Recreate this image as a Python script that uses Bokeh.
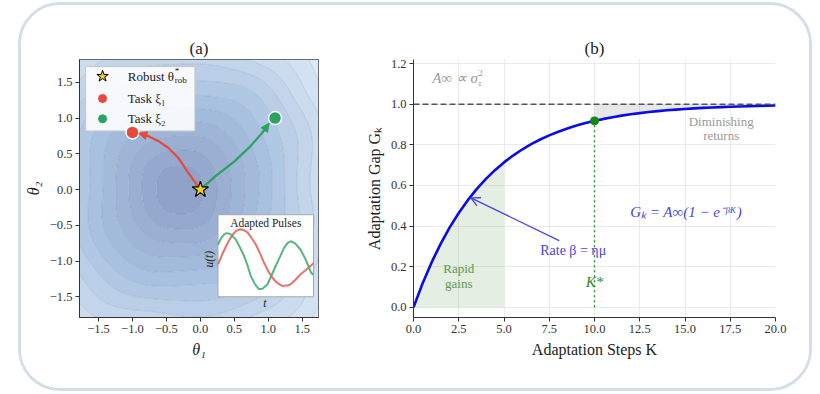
import numpy as np
from bokeh.plotting import figure
from bokeh.layouts import row
from bokeh.models import (Range1d, FixedTicker, CustomJSTickFormatter, Arrow,
                          NormalHead, OpenHead, Span)
from bokeh.core.properties import value
from bokeh.embed import file_html
from bokeh.resources import INLINE

SERIF = "Liberation Serif"

# ---------------- data: panel (a) ----------------
a_ticks = [-1.5, -1.0, -0.5, 0.0, 0.5, 1.0, 1.5]
robust_theta = [0.0, 0.0]
task1_theta = [-1.0, 0.8]
task2_theta = [1.1, 1.0]
task1_path_x = [0.0, -0.184, -0.33, -0.477, -0.623, -0.77, -0.907]
task1_path_y = [0.0, 0.243, 0.45, 0.589, 0.681, 0.75, 0.787]
task2_path_x = [0.0, 0.205, 0.498, 0.743, 0.914, 1.01]
task2_path_y = [0.0, 0.174, 0.391, 0.612, 0.797, 0.925]
landscape_center = [-0.3, 0.0]

pulse_red_t = [0.0, 0.04, 0.083, 0.12, 0.153, 0.19, 0.232, 0.27, 0.309, 0.35, 0.396, 0.44,
               0.482, 0.525, 0.57, 0.62, 0.674, 0.72, 0.76, 0.81, 0.865, 0.92, 0.969, 1.0]
pulse_red_u = [-0.16, 0.12, 0.39, 0.60, 0.75, 0.87, 0.92, 0.89, 0.82, 0.66, 0.45, 0.18,
               -0.11, -0.36, -0.57, -0.73, -0.82, -0.81, -0.77, -0.64, -0.46, -0.33, -0.21, -0.12]
pulse_green_t = [0.0, 0.03, 0.06, 0.09, 0.13, 0.1875, 0.23, 0.274, 0.31, 0.344, 0.39, 0.43, 0.47,
                 0.518, 0.56, 0.604, 0.65, 0.69, 0.73, 0.768, 0.81, 0.865, 0.92, 0.976, 1.0]
pulse_green_u = [0.45, 0.63, 0.75, 0.80, 0.77, 0.60, 0.36, 0.09, -0.20, -0.52, -0.78, -0.92, -0.90,
                 -0.77, -0.50, -0.21, 0.08, 0.34, 0.50, 0.55, 0.48, 0.29, -0.02, -0.42, -0.48]

# ---------------- data: panel (b) ----------------
steps_K = [0.0, 0.5, 1.0, 1.5, 2.0, 2.5, 3.0, 3.5, 4.0, 4.5, 5.0, 5.5, 6.0, 6.5, 7.0, 7.5,
           8.0, 8.5, 9.0, 9.5, 10.0, 10.5, 11.0, 11.5, 12.0, 12.5, 13.0, 13.5, 14.0, 14.5,
           15.0, 15.5, 16.0, 16.5, 17.0, 17.5, 18.0, 18.5, 19.0, 19.5, 20.0]
gap_G = [0.0, 0.1175, 0.2212, 0.3127, 0.3935, 0.4647, 0.5276, 0.5831, 0.6321, 0.6753, 0.7135,
         0.7472, 0.7769, 0.8031, 0.8262, 0.8466, 0.8647, 0.8806, 0.8946, 0.9070, 0.9179,
         0.9276, 0.9361, 0.9436, 0.9502, 0.9561, 0.9612, 0.9658, 0.9698, 0.9734, 0.9765,
         0.9792, 0.9817, 0.9838, 0.9857, 0.9874, 0.9889, 0.9902, 0.9913, 0.9924, 0.9933]
k_star = 10.0
g_at_k_star = 0.918
A_inf = 1.0
rapid_until = 5.0
b_xticks = [0.0, 2.5, 5.0, 7.5, 10.0, 12.5, 15.0, 17.5, 20.0]
b_yticks = [0.0, 0.2, 0.4, 0.6, 0.8, 1.0, 1.2]

RED = "#e8493d"
GREEN = "#2ba35f"
BLUE = "#0b0be6"
BLUE2 = "#4646dc"
fmt = CustomJSTickFormatter(code="return (tick < 0 ? '\u2212' : '') + Math.abs(tick).toFixed(1);")


def style_axes(p):
    for ax in (p.xaxis[0], p.yaxis[0]):
        ax.axis_line_color = "#333333"
        ax.major_tick_line_color = "#333333"
        ax.major_tick_out = 4
        ax.major_tick_in = 0
        ax.minor_tick_line_color = None
        ax.major_label_text_font = SERIF
        ax.major_label_text_font_size = "12.5px"
        ax.major_label_text_color = "#333333"
        ax.major_label_standoff = 3
        ax.axis_label_text_font = SERIF
        ax.axis_label_text_font_size = "16px"
        ax.axis_label_text_color = "#222222"
        ax.axis_label_standoff = 5
        ax.formatter = fmt


def style_title(p, txt):
    p.title.text = txt
    p.title.align = "center"
    p.title.text_font = SERIF
    p.title.text_font_size = "17px"
    p.title.text_font_style = "normal"
    p.title.text_color = "#222222"
    p.title.standoff = 4


# ================= panel (a) =================
p1 = figure(width=339, height=383, x_range=Range1d(-1.78, 1.74), y_range=Range1d(-1.79, 1.82),
            output_backend="svg", toolbar_location=None,
            min_border_left=57, min_border_right=42, min_border_top=51, min_border_bottom=71)
style_title(p1, "(a)")
p1.grid.visible = False
p1.outline_line_color = "#444444"
p1.outline_line_width = 1
p1.xaxis.ticker = FixedTicker(ticks=a_ticks)
p1.yaxis.ticker = FixedTicker(ticks=a_ticks)
style_axes(p1)
p1.xaxis.axis_label = "θ₁"
p1.yaxis.axis_label = "θ₂"

# loss landscape (background field)
xs = np.linspace(-1.78, 1.74, 141)
ys = np.linspace(-1.79, 1.82, 145)
X, Y = np.meshgrid(xs, ys)
U = X - landscape_center[0]
V = Y - landscape_center[1]
R = (np.abs(U) ** 2.8 + np.abs(V) ** 2.8) ** (1 / 2.8)
Z = R * (1 + 0.02 * np.sin(5 * Y + 1.0) * np.cos(4 * X))
levels = [0.0, 0.34] + list(np.arange(0.55, Z.max() + 0.2, 0.2))
nb = len(levels) - 1
stops = [(0.0, (144, 162, 200)), (0.45, (168, 193, 224)), (1.0, (220, 233, 245))]
palette = []
for i in range(nb):
    f = i / max(nb - 1, 1)
    for (f0, c0), (f1, c1) in zip(stops[:-1], stops[1:]):
        if f0 <= f <= f1:
            w = (f - f0) / (f1 - f0)
            c = [a + (b - a) * w for a, b in zip(c0, c1)]
            break
    palette.append("#%02x%02x%02x" % tuple(int(round(v)) for v in c))
p1.contour(xs, ys, Z, levels, fill_color=palette, line_color="#5d7499", line_alpha=0.25, line_width=0.8)

# legend box
p1.quad(left=-1.69, right=-0.08, top=1.72, bottom=0.82, fill_color="white", fill_alpha=0.88,
        line_color="#c8c8c8", line_width=1)
p1.scatter(x=[-1.44], y=[1.585], marker="star", size=12, fill_color="#f2cf1f", line_color="black", line_width=1)
p1.scatter(x=[-1.44], y=[1.274], size=8, fill_color=RED, line_color=RED)
p1.scatter(x=[-1.44], y=[0.99], size=8, fill_color=GREEN, line_color=GREEN)
tkw = dict(text_font=value(SERIF), text_baseline="middle", text_color="#222222")
p1.text(x=[-1.07], y=[1.585], text=["Robust θ"], text_font_size="13px", **tkw)
p1.text(x=[-1.07], y=[1.585], text=["*"], text_font_size="9px", x_offset=47, y_offset=-5, **tkw)
p1.text(x=[-1.07], y=[1.585], text=["rob"], text_font_size="9px", x_offset=47, y_offset=4, **tkw)
p1.text(x=[-1.07], y=[1.274], text=["Task ξ₁"], text_font_size="13px", **tkw)
p1.text(x=[-1.07], y=[0.99], text=["Task ξ₂"], text_font_size="13px", **tkw)

# adaptation trajectories
p1.line(task1_path_x, task1_path_y, line_color=RED, line_width=2.2)
p1.line(task2_path_x, task2_path_y, line_color=GREEN, line_width=2.2)
for px, py, col in ((task1_path_x, task1_path_y, RED), (task2_path_x, task2_path_y, GREEN)):
    p1.add_layout(Arrow(end=NormalHead(size=8, fill_color=col, line_color=col, line_width=1),
                        x_start=px[-2], y_start=py[-2], x_end=px[-1], y_end=py[-1],
                        line_color=col, line_width=2.2))
p1.scatter(x=[task1_theta[0]], y=[task1_theta[1]], size=13, fill_color=RED, line_color="white", line_width=1.5)
p1.scatter(x=[task2_theta[0]], y=[task2_theta[1]], size=13, fill_color=GREEN, line_color="white", line_width=1.5)
p1.scatter(x=[robust_theta[0]], y=[robust_theta[1]], marker="star", size=17, fill_color="#f2cf1f",
           line_color="black", line_width=1.2)

# inset: adapted pulses
in_l, in_r, in_t, in_b = 0.26, 1.666, -0.352, -1.5
in_mid, in_half = -0.974, 0.456
p1.quad(left=in_l, right=in_r, top=in_t, bottom=in_b, fill_color="white", line_color="#a8a8a8", line_width=1)
p1.line([in_l + t * (in_r - in_l) for t in pulse_red_t], [in_mid + u * in_half for u in pulse_red_u],
        line_color="#e2645a", line_width=2, line_alpha=0.9)
p1.line([in_l + t * (in_r - in_l) for t in pulse_green_t], [in_mid + u * in_half for u in pulse_green_u],
        line_color="#44ad72", line_width=2, line_alpha=0.9)
p1.text(x=[(in_l + in_r) / 2], y=[-0.472], text=["Adapted Pulses"], text_font_size="11.5px",
        text_align="center", **tkw)
p1.text(x=[0.12], y=[-0.974], text=["u(t)"], text_font_size="11.5px", text_align="center",
        angle=np.pi / 2, text_font_style="italic", **tkw)
p1.text(x=[0.948], y=[-1.583], text=["t"], text_font_size="11.5px", text_align="center",
        text_font_style="italic", **tkw)

# ================= panel (b) =================
p2 = figure(width=449, height=383, x_range=Range1d(0, 20), y_range=Range1d(-0.05, 1.22),
            output_backend="svg", toolbar_location=None,
            min_border_left=53, min_border_right=34, min_border_top=54, min_border_bottom=70)
style_title(p2, "(b)")
p2.outline_line_color = None
p2.xaxis.ticker = FixedTicker(ticks=b_xticks)
p2.yaxis.ticker = FixedTicker(ticks=b_yticks)
style_axes(p2)
p2.xaxis.axis_label = "Adaptation Steps K"
p2.yaxis.axis_label = "Adaptation Gap Gₖ"
p2.xaxis.axis_label_text_font_style = "normal"
p2.yaxis.axis_label_text_font_style = "normal"
p2.grid.grid_line_color = "#ebebeb"
p2.grid.grid_line_width = 1

rk = [k for k in steps_K if k <= rapid_until]
rg = [g for k, g in zip(steps_K, gap_G) if k <= rapid_until]
p2.varea(x=rk, y1=[0.0] * len(rk), y2=rg, fill_color="#4a8f3f", fill_alpha=0.15)
dk = [k for k in steps_K if k >= k_star]
dg = [g for k, g in zip(steps_K, gap_G) if k >= k_star]
p2.varea(x=dk, y1=dg, y2=[A_inf] * len(dk), fill_color="#888888", fill_alpha=0.2)

p2.line(steps_K, gap_G, line_color=BLUE, line_width=2.6)
p2.add_layout(Span(location=A_inf, dimension="width", line_color="#555555", line_width=1.5, line_dash="6 3"))
p2.line([k_star, k_star], [0.0, g_at_k_star], line_color="#2e9a2e", line_width=1.5, line_dash="2 3")
p2.scatter(x=[k_star], y=[g_at_k_star], size=8, fill_color="#128a12", line_color="#128a12")

btk = dict(text_font=value(SERIF), text_baseline="middle")
p2.text(x=[1.03], y=[1.13], text=["A∞ ∝ σ"], text_font_size="15px", text_color="#9a9a9a",
        text_font_style="italic", **btk)
p2.text(x=[1.03], y=[1.13], text=["2"], text_font_size="9px", text_color="#9a9a9a", x_offset=46, y_offset=-5, **btk)
p2.text(x=[1.03], y=[1.13], text=["τ"], text_font_size="9px", text_color="#9a9a9a", x_offset=46, y_offset=5,
        text_font_style="italic", **btk)
p2.text(x=[17.0, 17.0], y=[0.915, 0.848], text=["Diminishing", "returns"], text_font_size="13px",
        text_color="#9a9a9a", text_align="center", **btk)
p2.text(x=[2.5, 2.5], y=[0.19, 0.118], text=["Rapid", "gains"], text_font_size="13px",
        text_color="#5c9a52", text_align="center", **btk)
p2.text(x=[11.97], y=[0.47], text=["Gₖ = A∞(1 − e⁻ᵝᴷ)"], text_font_size="15px", text_color=BLUE2,
        text_font_style="italic", **btk)
p2.text(x=[7.0], y=[0.28], text=["Rate β = ημ"], text_font_size="14px", text_color=BLUE2, **btk)
p2.text(x=[k_star], y=[0.126], text=["K*"], text_font_size="15px", text_color="#2e8b2e",
        text_align="center", text_font_style="italic", **btk)
p2.add_layout(Arrow(end=OpenHead(size=9, line_color=BLUE2, line_width=1.3),
                    x_start=8.05, y_start=0.328, x_end=3.17, y_end=0.539,
                    line_color=BLUE2, line_width=1.3))

layout = row(p1, p2, styles={"position": "absolute", "left": "18px", "top": "2px",
                             "border": "3px solid #d3dee9", "border-radius": "42px",
                             "overflow": "hidden", "background-color": "white"})

open("out.html", "w").write(file_html(layout, INLINE))
